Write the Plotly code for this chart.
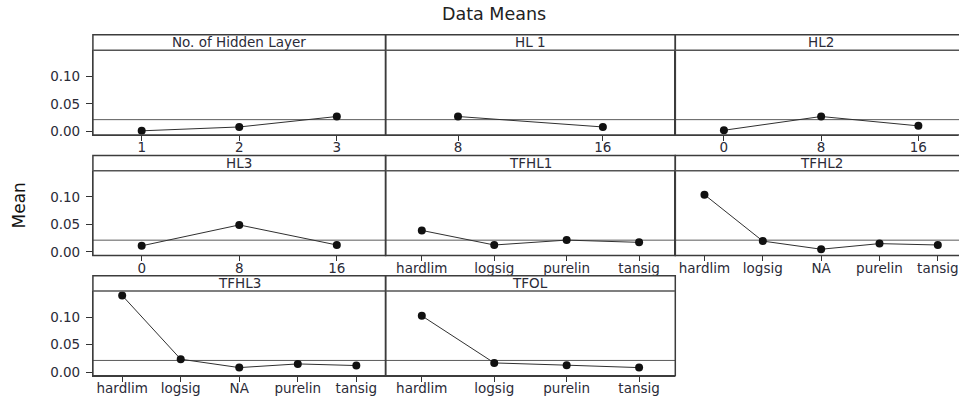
import plotly.graph_objects as go

# ---------------- data ----------------
panel_titles = ["No. of Hidden Layer", "HL 1", "HL2", "HL3", "TFHL1", "TFHL2", "TFHL3", "TFOL"]

no_hidden_layer_levels = ["1", "2", "3"]
no_hidden_layer_means = [0.001, 0.008, 0.027]

hl1_levels = ["8", "16"]
hl1_means = [0.027, 0.008]

hl2_levels = ["0", "8", "16"]
hl2_means = [0.002, 0.027, 0.010]

hl3_levels = ["0", "8", "16"]
hl3_means = [0.011, 0.049, 0.0125]

tfhl1_levels = ["hardlim", "logsig", "purelin", "tansig"]
tfhl1_means = [0.039, 0.0125, 0.0214, 0.0173]

tfhl2_levels = ["hardlim", "logsig", "NA", "purelin", "tansig"]
tfhl2_means = [0.104, 0.0196, 0.0048, 0.015, 0.0125]

tfhl3_levels = ["hardlim", "logsig", "NA", "purelin", "tansig"]
tfhl3_means = [0.1395, 0.0236, 0.0083, 0.015, 0.012]

tfol_levels = ["hardlim", "logsig", "purelin", "tansig"]
tfol_means = [0.1025, 0.0168, 0.0127, 0.0083]

grand_mean = 0.0213

y_tick_vals = [0.00, 0.05, 0.10]
y_tick_text = ["0.00", "0.05", "0.10"]

# ---------------- layout geometry (pixels) ----------------
W, H = 959, 403
col_px = [(93, 386), (386, 676), (676, 968)]          # last column is cut by the image edge
row_px = [(35, 50.7, 136.3), (157, 172.5, 258), (278.5, 294, 379.5)]  # top, header bottom, axis bottom
y_range = [-0.0065, 0.1475]

panels = [
    (no_hidden_layer_levels, no_hidden_layer_means, 0, 0),
    (hl1_levels, hl1_means, 0, 1),
    (hl2_levels, hl2_means, 0, 2),
    (hl3_levels, hl3_means, 1, 0),
    (tfhl1_levels, tfhl1_means, 1, 1),
    (tfhl2_levels, tfhl2_means, 1, 2),
    (tfhl3_levels, tfhl3_means, 2, 0),
    (tfol_levels, tfol_means, 2, 1),
]

FONT = "DejaVu Sans"
TXT = "#2b2b38"
BOX = "#3c3c3c"

fig = go.Figure()
layout = dict(
    width=W, height=H, margin=dict(l=0, r=0, t=0, b=0),
    paper_bgcolor="white", plot_bgcolor="white", showlegend=False,
    font=dict(family=FONT, size=12, color=TXT),
)
shapes = []
annotations = []

def px(x):
    return x / W

def py(y):
    return 1 - y / H

for i, (title, (levels, means, r, c)) in enumerate(zip(panel_titles, panels), start=1):
    xa = "x" if i == 1 else f"x{i}"
    ya = "y" if i == 1 else f"y{i}"
    x0p, x1p = col_px[c]
    top, hdr, bot = row_px[r]
    n = len(levels)
    vis_right = min(x1p, W)
    frac = (vis_right - x0p) / (x1p - x0p)
    xr = [-0.5, -0.5 + n * frac]

    fig.add_trace(go.Scatter(
        x=levels, y=means, xaxis=xa, yaxis=ya, mode="lines+markers",
        line=dict(color="#303030", width=1),
        marker=dict(color="#111111", size=8),
        hoverinfo="skip", cliponaxis=False,
    ))

    layout["xaxis" if i == 1 else f"xaxis{i}"] = dict(
        domain=[px(x0p), px(vis_right)], anchor=ya, type="category",
        range=xr, showgrid=False, zeroline=False,
        showline=True, linecolor=BOX, linewidth=1,
        ticks="outside", ticklen=5, tickwidth=1, tickcolor="#333333",
        ticklabelstandoff=-5,
        tickfont=dict(family=FONT, size=13.5, color=TXT),
        categoryorder="array", categoryarray=levels, fixedrange=True,
    )
    yax = dict(
        domain=[py(bot), py(hdr)], anchor=xa, range=y_range,
        showgrid=False, zeroline=False, fixedrange=True,
        showline=True, linecolor=BOX, linewidth=1,
        tickvals=y_tick_vals, ticktext=y_tick_text,
    )
    if c == 0:
        yax.update(ticks="outside", ticklen=6, tickwidth=1, tickcolor="#333333",
                   ticklabelstandoff=3,
                   showticklabels=True, tickfont=dict(family=FONT, size=13.5, color=TXT))
    else:
        yax.update(ticks="", showticklabels=False)
    layout["yaxis" if i == 1 else f"yaxis{i}"] = yax

    # panel box (header + plot area)
    shapes.append(dict(type="rect", xref="paper", yref="paper",
                       x0=px(x0p), x1=px(x1p), y0=py(bot), y1=py(top),
                       line=dict(color=BOX, width=1.5), layer="above"))
    # header separator
    shapes.append(dict(type="line", xref="paper", yref="paper",
                       x0=px(x0p), x1=px(x1p), y0=py(hdr), y1=py(hdr),
                       line=dict(color="#555555", width=1.5), layer="above"))
    # grand mean reference line
    shapes.append(dict(type="line", xref="paper", yref=ya,
                       x0=px(x0p), x1=px(x1p), y0=grand_mean, y1=grand_mean,
                       line=dict(color="#5a5a5a", width=1), layer="below"))
    # panel header text
    annotations.append(dict(text=title, xref="paper", yref="paper",
                            x=px((x0p + x1p) / 2),
                            y=py((top + hdr) / 2), xanchor="center", yanchor="middle",
                            showarrow=False, font=dict(family=FONT, size=13.5, color=TXT)))

annotations.append(dict(text="Data Means", xref="paper", yref="paper", x=px(495), y=py(14),
                        xanchor="center", yanchor="middle", showarrow=False,
                        font=dict(family=FONT, size=17.5, color="#222222")))
annotations.append(dict(text="Mean", xref="paper", yref="paper", x=px(19), y=py(207.5),
                        xanchor="center", yanchor="middle", showarrow=False, textangle=-90,
                        font=dict(family=FONT, size=17, color="#111111")))

layout["shapes"] = shapes
layout["annotations"] = annotations
fig.update_layout(**layout)

fig.write_html("out.html", config={"displayModeBar": False},
               post_script="document.body.style.margin='0';")
